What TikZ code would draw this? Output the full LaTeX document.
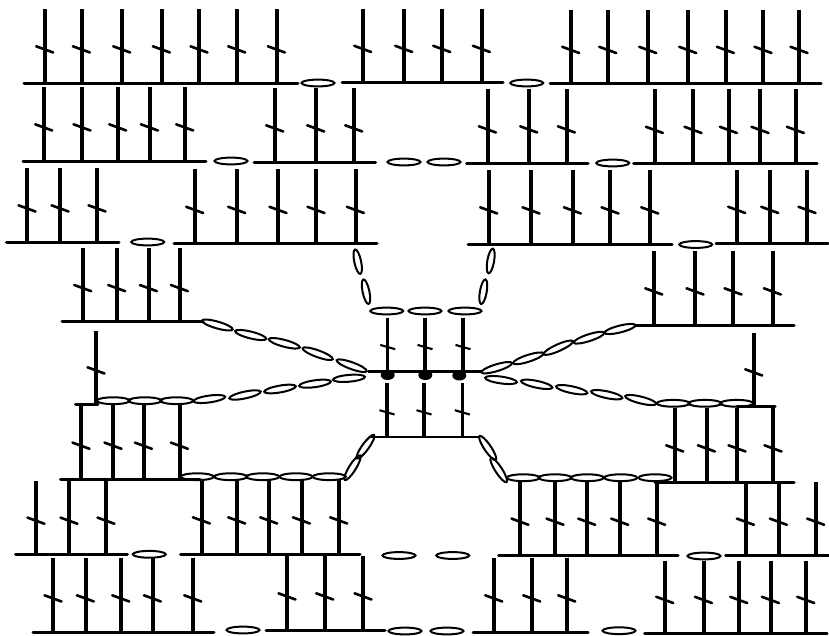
\documentclass[tikz,border=0pt]{standalone}
\tikzset{
  post/.style={line width=3.7pt,black,line cap=butt},
  baseline rule/.style={line width=3pt,black,line cap=round},
  tick/.style={line width=2.6pt,black,line cap=round},
  smallpost/.style={line width=3.4pt,black},
  chainoval/.style={line width=2pt,black},
  dotmark/.style={fill=black,draw=none}
}
% \stgroup{top}{base}{left}{right}{x list}
\newcommand{\stgroup}[5]{%
  \draw[baseline rule] (#3,#2) -- (#4,#2);
  \foreach \xx in {#5}{%
    \draw[post] (\xx,#1) -- (\xx,#2);
    \draw[tick] (\xx-8.8,#2-36.7) -- (\xx+8.2,#2-30.5);
  }}
\newcommand{\smallgroup}[5]{%
  \draw[line width=2.6pt,black] (#3,#2) -- (#4,#2);
  \foreach \xx in {#5}{%
    \draw[smallpost] (\xx,#1) -- (\xx,#2);
    \draw[line width=2.1pt,black] (\xx-7.5,#2-26.8) -- (\xx+7.5,#2-22.5);
  }}
% \ov{x}{y}{angle}{rx}
\newcommand{\ov}[4]{\draw[chainoval,shift={(#1,#2)},rotate=#3] (0,0) ellipse [x radius=#4pt,y radius=3.4pt];}
\begin{document}
\begin{tikzpicture}[x=1pt,y=-1pt]
\fill[white] (0,0) rectangle (829,635);
\useasboundingbox (0,0) rectangle (829,635);
% row 1
\stgroup{9}{83}{24}{298}{45,81.7,122,161.7,199.3,237,276.7}
\stgroup{8.5}{82.5}{342}{503}{363,404,442,481.7}
\stgroup{9.5}{83.5}{550}{821}{571,608,648,688,725.7,763.3,799.3}
\ov{318}{83}{0}{16.5}
\ov{526.7}{83}{0}{16.5}
% row 2
\stgroup{87}{161}{23}{206}{44,82.3,118,149.7,185}
\stgroup{88}{162}{254}{375.5}{275,316,354}
\stgroup{89}{163}{466.5}{588}{487.7,529,566.7}
\stgroup{89}{163.5}{633.5}{817}{654.7,693.3,728.7,760.3,795.7}
\ov{231}{161}{0}{16.5}
\ov{404}{162}{0}{16.5}
\ov{444}{162}{0}{16.5}
\ov{612.7}{163}{0}{16.5}
% row 3
\stgroup{168}{242}{6.5}{119}{27.3,60.3,97.3}
\stgroup{169}{243.5}{174}{377}{195,237,278.3,316.3,355.7}
\stgroup{170}{244}{468}{672}{489,531.3,572.7,610.3,650}
\stgroup{170}{243.5}{716}{828}{737,770,807.3}
\ov{147.7}{242}{0}{16.5}
\ov{695.7}{244.5}{0}{16.5}
% upright ovals
\ov{357.7}{261.7}{-78}{12.5}
\ov{366}{291.7}{-78}{12.5}
\ov{490.7}{261}{80}{12.5}
\ov{483.3}{291.7}{80}{12.5}
% row 4
\stgroup{248}{321.7}{62}{203}{83,117,148.7,179.7}
\stgroup{251}{325}{635}{794}{654,695.3,733.3,772.7}
% centre
\ov{386.7}{311}{0}{16.5}
\ov{425}{311}{0}{16.5}
\ov{465}{311}{0}{16.5}
\smallgroup{317.7}{371.7}{368}{482}{387.7,425,463}
\smallgroup{383.3}{437}{369}{480}{387,424,462.3}
\fill[dotmark] (387.7,375) ellipse [x radius=7pt,y radius=5pt];
\fill[dotmark] (425.3,375) ellipse [x radius=7pt,y radius=5pt];
\fill[dotmark] (459.3,375.5) ellipse [x radius=7pt,y radius=5pt];
% chains, upper left
\ov{217.3}{325}{-16}{16}
\ov{250.7}{335}{-14}{16}
\ov{284.3}{343.3}{-15}{16}
\ov{317.7}{353.7}{-20}{16}
\ov{351.7}{365.7}{-20}{16}
% chains, lower left
\ov{349}{378.3}{5}{16}
\ov{315}{383.7}{8}{16}
\ov{280}{389}{10}{16}
\ov{245}{395}{12}{16}
\ov{209.3}{399}{8}{16}
\ov{176.7}{400.7}{0}{16.5}
\ov{145}{400.7}{0}{16.5}
\ov{113.3}{400.7}{0}{16.5}
% chains, upper right
\ov{496.7}{367.7}{17}{16}
\ov{528.3}{358.3}{18}{16}
\ov{558.3}{347.7}{24}{16}
\ov{589}{337.7}{18}{16}
\ov{620}{329}{14}{16}
% chains, lower right
\ov{501}{380}{-8}{16}
\ov{536.7}{384.3}{-12}{16}
\ov{571.7}{389.7}{-12}{16}
\ov{606.7}{394.7}{-12}{16}
\ov{640.7}{400}{-14}{16}
\ov{673.3}{403.3}{0}{16.5}
\ov{705}{403.3}{0}{16.5}
\ov{736.7}{403.3}{0}{16.5}
% single posts
\stgroup{330.7}{404}{75.5}{98}{96.3}
\stgroup{333.3}{406}{737}{775}{754}
% row 6
\stgroup{405}{479.3}{60.5}{200}{81.3,113.3,143.7,179.7}
\stgroup{408.3}{482}{655}{794}{675,706.7,737.3,773.3}
\ov{197.3}{476.7}{0}{16.5}
\ov{230.7}{476.7}{0}{16.5}
\ov{262.7}{476.7}{0}{16.5}
\ov{296}{476.7}{0}{16.5}
\ov{329.3}{476.7}{0}{16.5}
\ov{523.3}{477.7}{0}{16.5}
\ov{555}{477.7}{0}{16.5}
\ov{587.3}{477.7}{0}{16.5}
\ov{620.7}{477.7}{0}{16.5}
\ov{655}{477.7}{0}{16.5}
\ov{352.5}{467.7}{58}{14.5}
\ov{365.5}{446.7}{54}{14.5}
\ov{487.7}{448}{-56}{14.5}
\ov{498.7}{470}{-57}{14.5}
% row 7
\stgroup{480.7}{554.3}{15.5}{127.5}{36.3,69.3,106.3}
\stgroup{480}{554}{180.5}{360}{201.7,237,269,301.7,339}
\stgroup{480.7}{555.3}{498.5}{678}{520.3,555.3,587,620,657}
\stgroup{481.7}{555.3}{725.5}{829}{745.7,778.7,816}
\ov{149.3}{554.3}{0}{16.5}
\ov{399}{555.5}{0}{16.5}
\ov{452.7}{555.5}{0}{16.5}
\ov{704}{556}{0}{16.5}
% row 8
\stgroup{557.7}{632}{33}{214}{53.3,85.7,121,152.7,193}
\stgroup{555.7}{630}{266}{385}{287.3,325,363.3}
\stgroup{557.7}{632}{473}{588}{494,532,567}
\stgroup{560.7}{633.5}{644.5}{827}{665,703.7,739,770.7,806}
\ov{243}{630}{0}{16.5}
\ov{405}{631}{0}{16.5}
\ov{447}{631}{0}{16.5}
\ov{619}{630.7}{0}{16.5}
\end{tikzpicture}
\end{document}
